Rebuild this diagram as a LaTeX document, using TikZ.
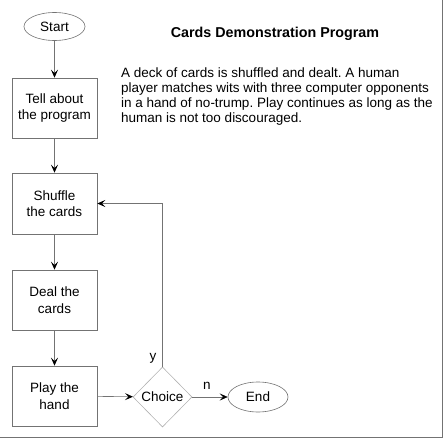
\documentclass[tikz,border=0pt]{standalone}
\usepackage{fontspec}
\setmainfont{Liberation Sans}
\usetikzlibrary{shapes.geometric,arrows.meta}
\begin{document}
\frenchspacing
\begin{tikzpicture}[x=1pt,y=-1pt,
  every node/.style={font=\fontsize{13.5}{16.5}\selectfont},
  stepbox/.style={draw=gray!90!black, line width=0.6pt, minimum width=85pt, minimum height=60pt, align=center, inner sep=0pt},
  term/.style={draw=gray!90!black, line width=0.6pt, ellipse, minimum width=61pt, minimum height=28pt, inner sep=0pt},
  choicebox/.style={draw=gray!60, line width=0.6pt, diamond, minimum width=59pt, minimum height=60pt, inner sep=0pt},
  arr/.style={draw=gray!90!black, line width=0.6pt, -{Stealth[length=8pt,width=7pt,inset=3.5pt,black]}},
  frameline/.style={draw=gray!90!black, line width=1pt}]
\useasboundingbox (0,0) rectangle (445,439);
\draw[frameline] (442.5,0) -- (442.5,437) -- (0,437);
\node[term] (start) at (54.5,26.5) {Start};
\node[stepbox] (tell) at (54.5,108) {Tell about\\the program};
\node[stepbox, minimum height=61pt] (shuffle) at (54.5,203.5) {Shuffle\\the cards};
\node[stepbox] (deal) at (54.5,300) {Deal the\\cards};
\node[stepbox] (play) at (54.5,396) {Play the\\hand};
\node[choicebox] (choice) at (162.5,397) {Choice};
\node[term, minimum width=60pt, minimum height=30pt] (end) at (258,397) {End};
\node[font=\fontsize{14.3}{17}\selectfont\bfseries] (title) at (275,33.5) {Cards Demonstration Program};
\node[anchor=north west, align=left, inner sep=0pt, font=\fontsize{13.5}{15}\selectfont] (desc) at (121,67.6) {A deck of cards is shuffled and dealt. A human\\player matches wits with three computer opponents\\in a hand of no-trump. Play continues as long as the\\human is not too discouraged.};
\draw[arr] (start) -- (tell);
\draw[arr] (tell) -- (shuffle);
\draw[arr] (shuffle) -- (deal);
\draw[arr] (deal) -- (play);
\draw[arr] (play) -- (choice);
\draw[arr] (choice) -- (end);
\draw[arr] (choice.north) |- (shuffle.east);
\node (ylab) at (153,358) {y};
\node (nlab) at (207,386) {n};
\end{tikzpicture}
\end{document}
